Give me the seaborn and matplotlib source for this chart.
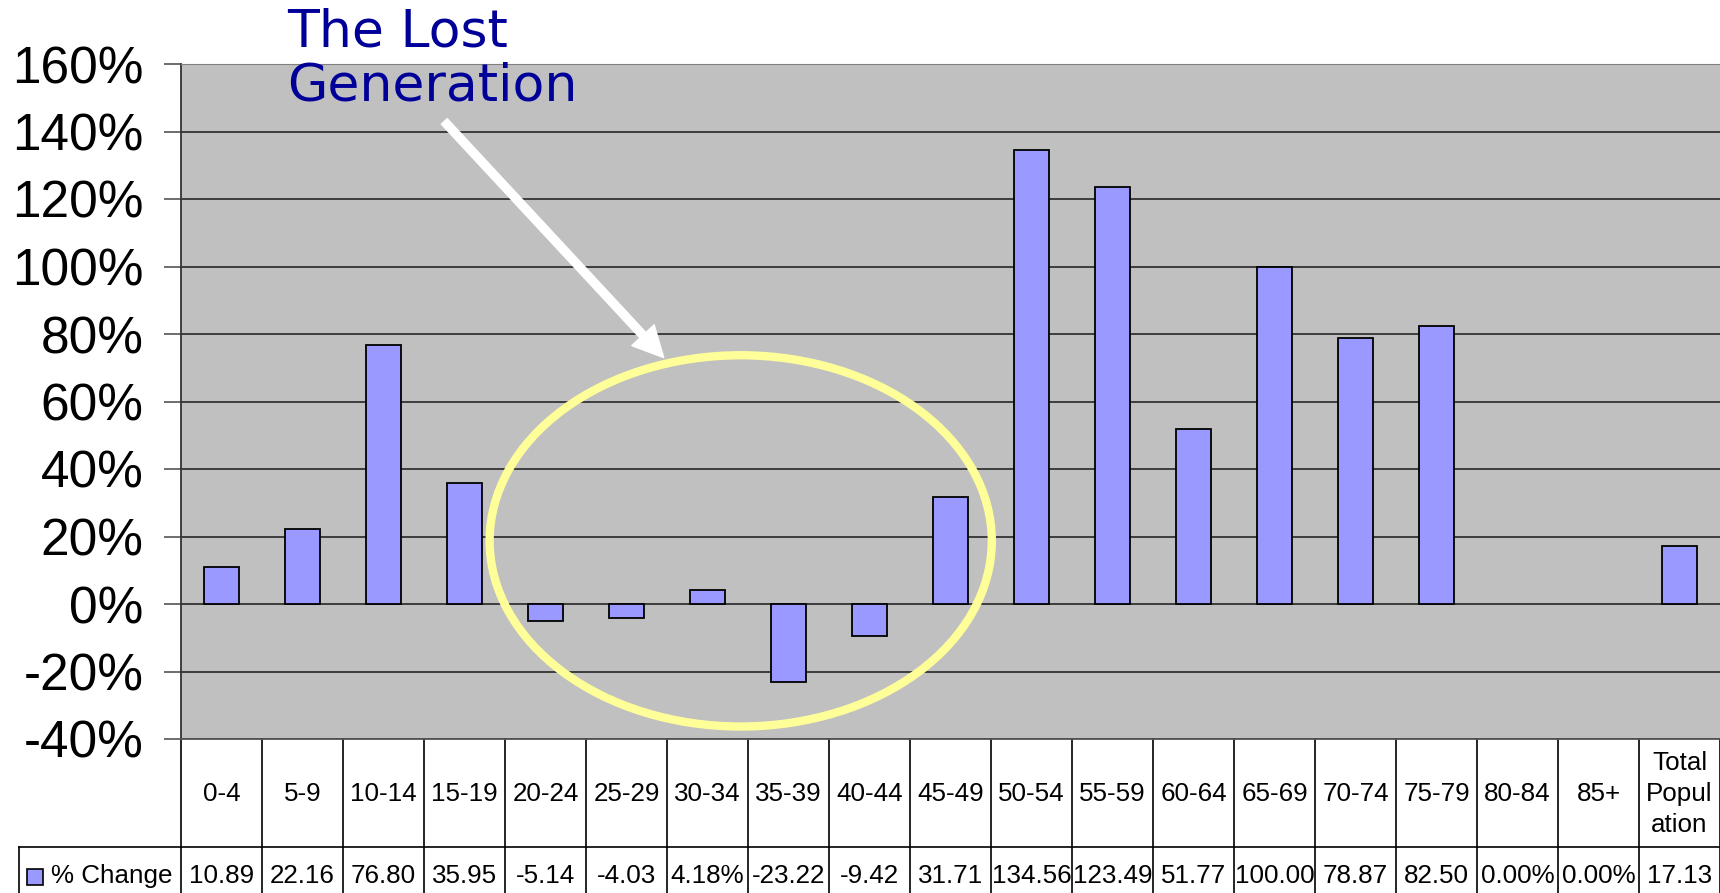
import matplotlib
matplotlib.use('Agg')
import matplotlib.pyplot as plt
import seaborn as sns
import pandas as pd
from matplotlib.patches import Ellipse, Rectangle
from matplotlib.ticker import FuncFormatter

# data
age_groups = ['0-4', '5-9', '10-14', '15-19', '20-24', '25-29', '30-34', '35-39',
              '40-44', '45-49', '50-54', '55-59', '60-64', '65-69', '70-74',
              '75-79', '80-84', '85+', 'Total Population']
header_labels = ['0-4', '5-9', '10-14', '15-19', '20-24', '25-29', '30-34', '35-39',
                 '40-44', '45-49', '50-54', '55-59', '60-64', '65-69', '70-74',
                 '75-79', '80-84', '85+', 'Total\nPopul\nation']
pct_change = [10.89, 22.16, 76.80, 35.95, -5.14, -4.03, 4.18, -23.22, -9.42,
              31.71, 134.56, 123.49, 51.77, 100.00, 78.87, 82.50, 0.00, 0.00, 17.13]
table_values = ['10.89', '22.16', '76.80', '35.95', '-5.14', '-4.03', '4.18%',
                '-23.22', '-9.42', '31.71', '134.56', '123.49', '51.77', '100.00',
                '78.87', '82.50', '0.00%', '0.00%', '17.13']
y_ticks = [-40, -20, 0, 20, 40, 60, 80, 100, 120, 140, 160]

df = pd.DataFrame({'group': age_groups, 'change': pct_change})

bar_color = '#9999FF'
plot_bg = '#C0C0C0'
line_col = '#1a1a1a'

plt.rcParams['font.family'] = ['Liberation Sans', 'DejaVu Sans']

fig = plt.figure(figsize=(17.2, 8.93), dpi=100)
ax = fig.add_axes([181 / 1720, 154 / 893, 1539 / 1720, 675 / 893])
ax.set_facecolor(plot_bg)

sns.barplot(data=df, x='group', y='change', order=age_groups, color=bar_color,
            saturation=1, width=0.42, edgecolor='black', linewidth=1.3, ax=ax)
# zero-valued bars are not drawn in the original
for patch in ax.patches:
    if patch.get_height() == 0:
        patch.set_linewidth(0)

ax.set_xlim(-0.5, len(age_groups) - 0.5)
ax.set_ylim(-40, 160)
ax.set_yticks(y_ticks)
ax.yaxis.set_major_formatter(FuncFormatter(lambda v, p: f'{v:.0f}%'))
ax.tick_params(axis='y', labelsize=37, length=12, width=1.2, color='#555555', pad=15)
ax.tick_params(axis='x', bottom=False, labelbottom=False)
ax.set_xlabel('')
ax.set_ylabel('')
ax.grid(axis='y', color=line_col, linewidth=1.1)
ax.set_axisbelow(True)
ax.spines['right'].set_visible(False)
ax.spines['top'].set_color('#808080')
ax.spines['left'].set_color('#333333')
ax.spines['left'].set_linewidth(1.3)
ax.spines['bottom'].set_color('#555555')
ax.spines['bottom'].set_linewidth(1.3)

# data table below the chart (x in data units, y in axes fraction)
tr = ax.get_xaxis_transform()
head_bot = -0.16
tab_bot = -0.232
row_left = -2.505
for i in range(len(age_groups) + 1):
    ax.plot([i - 0.5, i - 0.5], [0, tab_bot], transform=tr, color='black',
            lw=1.2, clip_on=False)
ax.plot([row_left, len(age_groups) - 0.5], [head_bot, head_bot], transform=tr,
        color='black', lw=1.2, clip_on=False)
ax.plot([row_left, row_left], [head_bot, tab_bot], transform=tr, color='black',
        lw=1.2, clip_on=False)
for i, (lab, val) in enumerate(zip(header_labels, table_values)):
    ax.text(i, -0.0815, lab, transform=tr, ha='center', va='center',
            fontsize=18.7, linespacing=1.35, clip_on=False)
    ax.text(i, -0.2035, val, transform=tr, ha='center', va='center',
            fontsize=18.7, clip_on=False)

# legend key in the row header
ax.add_patch(Rectangle((-2.396, -0.2163), 0.19, 0.0237, transform=tr,
                       facecolor=bar_color, edgecolor='black', lw=1.2,
                       clip_on=False))
ax.text(-2.11, -0.2035, '% Change', transform=tr, ha='left', va='center',
        fontsize=18.7, clip_on=False)

# annotation
ax.add_patch(Ellipse((6.41, 18.7), width=6.2, height=110, facecolor='none',
                     edgecolor='#FFFF99', lw=6, zorder=5))
ax.annotate('', xy=(5.46, 73), xytext=(2.75, 143),
            arrowprops=dict(arrowstyle='simple,head_length=1.1,head_width=1.1,tail_width=0.29',
                            color='white', mutation_scale=20, shrinkA=0, shrinkB=0),
            zorder=6)
ax.text(0.81, 1.084, 'The Lost\nGeneration', transform=tr, ha='left', va='top',
        fontsize=37.5, color='#000099', family='DejaVu Sans', linespacing=1.12,
        clip_on=False)

fig.savefig('out.png', dpi=100)
